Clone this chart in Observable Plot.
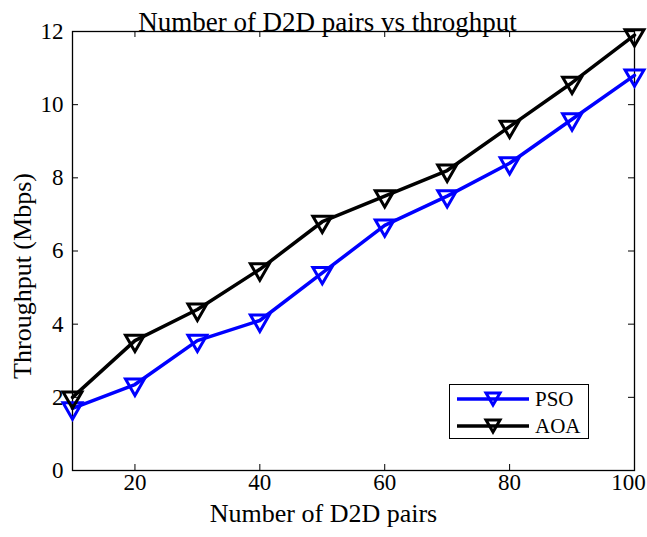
<!DOCTYPE html>
<html><head><meta charset="utf-8">
<script src="https://cdn.jsdelivr.net/npm/d3@7"></script>
<script src="https://cdn.jsdelivr.net/npm/@observablehq/plot@0.6"></script>
<style>
body{margin:0;background:#fff;font-family:"Liberation Serif","Times New Roman",serif;}
#wrap{position:relative;width:647px;height:537px;overflow:hidden;}
#legend{position:absolute;left:449px;top:384px;width:138px;height:53px;border:1px solid #000;background:#fff;font-size:21px;}
.lrow{position:absolute;left:7px;height:24px;display:flex;align-items:center;}
.lrow span{margin-left:6px;}
</style></head>
<body><div id="wrap"></div>
<script>
const pairs = [10,20,30,40,50,60,70,80,90,100];
const pso = [1.7,2.35,3.55,4.1,5.4,6.7,7.5,8.4,9.6,10.8];
const aoa = [2.0,3.55,4.4,5.5,6.8,7.5,8.2,9.4,10.6,11.9];
const xTicks = [20,40,60,80,100];
const yTicks = [0,2,4,6,8,10,12];
const seriesNames = ["PSO","AOA"];
const seriesColors = ["#0000ff","#000000"];
const title = "Number of D2D pairs vs throghput";
const xLabel = "Number of D2D pairs";
const yLabel = "Throughput (Mbps)";

const data = [];
pairs.forEach((p,i)=>{ data.push({x:p,y:pso[i],s:"PSO"}); data.push({x:p,y:aoa[i],s:"AOA"}); });

const W=647,H=537,ml=72,mr=13,mt=31,mb=67;
const ph=H-mt-mb, pw=W-ml-mr;
const lastX = xTicks[xTicks.length-1];
const chart = Plot.plot({
  width:W,height:H,marginLeft:ml,marginRight:mr,marginTop:mt,marginBottom:mb,
  style:{fontFamily:'"Liberation Serif","Times New Roman",serif',fontSize:"23px",background:"#fff",color:"#000",overflow:"visible"},
  x:{domain:[10,100],ticks:xTicks},
  y:{domain:[0,12],ticks:yTicks},
  color:{domain:seriesNames,range:seriesColors},
  marks:[
    Plot.axisX({ticks:xTicks.filter(t=>t!==lastX),tickSize:0,tickPadding:3,label:null,fontSize:23}),
    Plot.axisX({ticks:[lastX],tickSize:0,tickPadding:3,label:null,fontSize:23,dx:-6}),
    Plot.axisY({ticks:yTicks,tickSize:0,tickPadding:9,label:null,fontSize:23}),
    Plot.tickX(xTicks,{x:d=>d,insetTop:ph-6,stroke:"#000"}),
    Plot.tickX(xTicks,{x:d=>d,insetBottom:ph-6,stroke:"#000"}),
    Plot.tickY(yTicks,{y:d=>d,insetRight:pw-6,stroke:"#000"}),
    Plot.tickY(yTicks,{y:d=>d,insetLeft:pw-6,stroke:"#000"}),
    Plot.frame({stroke:"#000",strokeWidth:1.3}),
    Plot.line(data,{x:"x",y:"y",z:"s",stroke:"s",strokeWidth:3.5}),
    Plot.dot(data,{x:"x",y:"y",stroke:"s",symbol:"triangle",rotate:180,r:7,strokeWidth:3,fill:"none"}),
    Plot.text([title],{text:d=>d,frameAnchor:"top",textAnchor:"middle",lineAnchor:"bottom",dx:-26,dy:-1,fontSize:27}),
    Plot.text([xLabel],{text:d=>d,frameAnchor:"bottom",textAnchor:"middle",dx:-30,dy:51,fontSize:26}),
    Plot.text([yLabel],{text:d=>d,frameAnchor:"left",textAnchor:"middle",rotate:-90,dx:-50,dy:25,fontSize:26})
  ]
});
const wrap=document.getElementById("wrap");
wrap.appendChild(chart);
const leg=document.createElement("div");leg.id="legend";
seriesNames.forEach((n,i)=>{
  const row=document.createElement("div");row.className="lrow";row.style.top=(2+i*27)+"px";
  const c=seriesColors[i];
  row.innerHTML=`<svg width="72" height="22"><line x1="0" y1="11" x2="72" y2="11" stroke="${c}" stroke-width="3.5"/><path d="M29,5 L43,5 L36,17 Z" fill="none" stroke="${c}" stroke-width="3"/></svg><span>${n}</span>`;
  leg.appendChild(row);
});
wrap.appendChild(leg);
</script></body></html>
